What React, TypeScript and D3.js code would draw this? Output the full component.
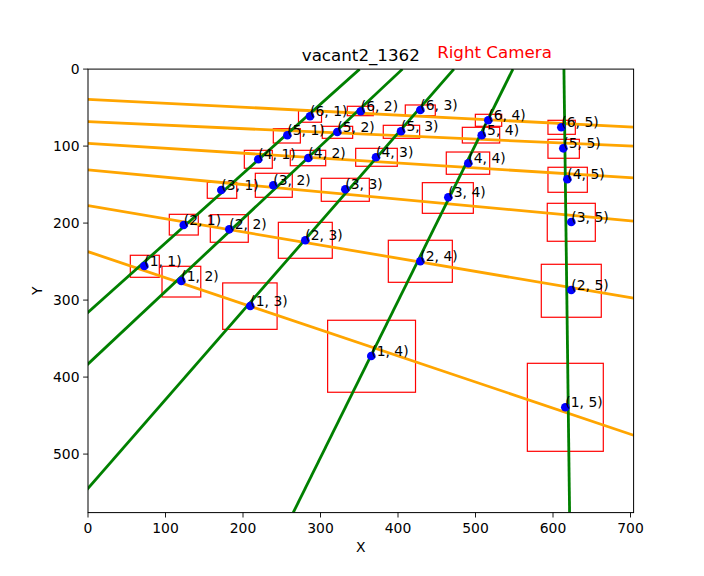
import * as d3 from "d3";

// image size in pixels (axis domains)
const imgW = 704;
const imgH = 576;

const title = "vacant2_1362";
const cameraLabel = "Right Camera";
const xTicks = [0, 100, 200, 300, 400, 500, 600, 700];
const yTicks = [0, 100, 200, 300, 400, 500];

// detected grid points, row r (1..6), column c (1..5)
const rowIds = [1, 2, 3, 4, 5, 6];
const colIds = [1, 2, 3, 4, 5];
const dotX = [
  [72.6, 120.4, 209.4, 365.5, 615.9],
  [123.5, 182.3, 280.4, 428.8, 623.6],
  [172.0, 239.1, 332.0, 464.9, 623.6],
  [219.7, 284.3, 371.6, 490.7, 618.5],
  [257.2, 321.7, 403.9, 508.0, 613.3],
  [286.5, 351.9, 428.8, 516.5, 610.7],
];
const dotY = [
  [255.7, 275.2, 307.7, 372.6, 439.2],
  [202.5, 208.1, 222.3, 249.6, 286.9],
  [157.0, 150.9, 156.1, 166.5, 198.6],
  [117.1, 115.5, 114.5, 122.3, 143.1],
  [86.0, 81.7, 80.8, 86.0, 102.9],
  [61.3, 54.8, 53.1, 66.5, 75.6],
];
// bounding boxes [x0, y0, x1, y1] in the same order
const boxes = [
  [[54.6, 241.8, 92.0, 270.4], [95.5, 256.1, 145.5, 296.0], [173.8, 277.7, 244.0, 338.0], [309.2, 326.2, 422.6, 419.7], [566.9, 382.1, 664.9, 496.4]],
  [[104.9, 188.6, 142.3, 215.5], [157.8, 189.1, 206.8, 224.9], [245.6, 199.0, 315.2, 245.7], [387.5, 222.3, 470.1, 276.9], [584.9, 253.5, 662.3, 322.3]],
  [[153.9, 147.0, 191.9, 167.8], [215.9, 135.3, 263.6, 166.5], [301.0, 141.8, 363.0, 171.7], [431.4, 147.5, 497.2, 187.3], [592.6, 174.3, 654.6, 223.6]],
  [[201.7, 105.5, 237.8, 128.8], [261.0, 105.5, 306.7, 125.5], [345.4, 102.9, 399.1, 126.2], [462.3, 107.7, 518.3, 136.6], [593.5, 127.5, 644.3, 160.0]],
  [[239.1, 77.4, 274.0, 96.0], [302.3, 74.3, 341.5, 89.9], [381.0, 73.0, 427.9, 89.9], [483.0, 75.6, 531.2, 96.0], [593.5, 91.2, 634.0, 115.8]],
  [[271.6, 53.9, 301.3, 69.0], [334.6, 48.3, 368.1, 60.5], [409.4, 46.6, 448.1, 60.5], [499.8, 58.7, 533.8, 74.3], [593.5, 66.5, 628.8, 84.7]],
];

// fitted row lines: y at x=0 and at x=704
const rowLineLeft = [237.1, 177.4, 131.0, 96.4, 68.3, 39.2];
const rowLineRight = [475.5, 297.5, 197.5, 141.4, 100.1, 75.4];
// fitted column lines: x at y=0 and at y=576
const colLineTop = [350.5, 405.8, 472.1, 548.3, 614.1];
const colLineBottom = [-288.4, -204.5, -27.3, 264.8, 621.4];

const W = 704;
const H = 576;
const left = 88;
const right = 633.6;
const top = 69.1;
const bottom = 512.6;
const font = "DejaVu Sans, sans-serif";

export default function App() {
  const x = d3.scaleLinear().domain([0, imgW]).range([left, right]);
  const y = d3.scaleLinear().domain([0, imgH]).range([top, bottom]);
  const line = d3.line<[number, number]>().x((d) => x(d[0])).y((d) => y(d[1]));

  const cells = rowIds.flatMap((r, i) => colIds.map((c, j) => ({ r, c, i, j })));

  return (
    <svg width={W} height={H} style={{ position: "absolute", left: 0, top: 0 }} fontFamily={font}>
      <rect width={W} height={H} fill="white" />
      <defs>
        <clipPath id="plot">
          <rect x={left} y={top} width={right - left} height={bottom - top} />
        </clipPath>
      </defs>
      <g clipPath="url(#plot)">
        {cells.map(({ i, j }) => {
          const b = boxes[i][j];
          return (
            <rect key={`b${i}${j}`} x={x(b[0])} y={y(b[1])} width={x(b[2]) - x(b[0])} height={y(b[3]) - y(b[1])}
              fill="none" stroke="red" strokeWidth={1.2} />
          );
        })}
        {rowLineLeft.map((v, i) => (
          <path key={`r${i}`} d={line([[0, v], [imgW, rowLineRight[i]]]) ?? ""} stroke="orange" strokeWidth={2.8} fill="none" />
        ))}
        {colLineTop.map((v, i) => (
          <path key={`c${i}`} d={line([[v, 0], [colLineBottom[i], imgH]]) ?? ""} stroke="green" strokeWidth={2.8} fill="none" />
        ))}
        {cells.map(({ i, j }) => (
          <circle key={`d${i}${j}`} cx={x(dotX[i][j])} cy={y(dotY[i][j])} r={4.3} fill="blue" />
        ))}
      </g>
      {cells.map(({ r, c, i, j }) => (
        <text key={`t${i}${j}`} x={x(dotX[i][j])} y={y(dotY[i][j])} fontSize={13.9} fill="black">
          ({r}, {c})
        </text>
      ))}
      <rect x={left} y={top} width={right - left} height={bottom - top} fill="none" stroke="black" strokeWidth={1} />
      {xTicks.map((t) => (
        <g key={`xt${t}`}>
          <line x1={x(t)} x2={x(t)} y1={bottom} y2={bottom + 4.9} stroke="black" strokeWidth={0.9} />
          <text x={x(t)} y={bottom + 20} textAnchor="middle" fontSize={13.9}>{t}</text>
        </g>
      ))}
      {yTicks.map((t) => (
        <g key={`yt${t}`}>
          <line x1={left - 4.9} x2={left} y1={y(t)} y2={y(t)} stroke="black" strokeWidth={0.9} />
          <text x={left - 8.5} y={y(t) + 5} textAnchor="end" fontSize={13.9}>{t}</text>
        </g>
      ))}
      <text x={(left + right) / 2} y={552} textAnchor="middle" fontSize={13.9}>X</text>
      <text transform={`translate(42, ${(top + bottom) / 2}) rotate(-90)`} textAnchor="middle" fontSize={13.9}>Y</text>
      <text x={(left + right) / 2} y={61} textAnchor="middle" fontSize={16.7}>{title}</text>
      <text x={494.5} y={57.5} textAnchor="middle" fontSize={16.7} fill="red">{cameraLabel}</text>
    </svg>
  );
}
